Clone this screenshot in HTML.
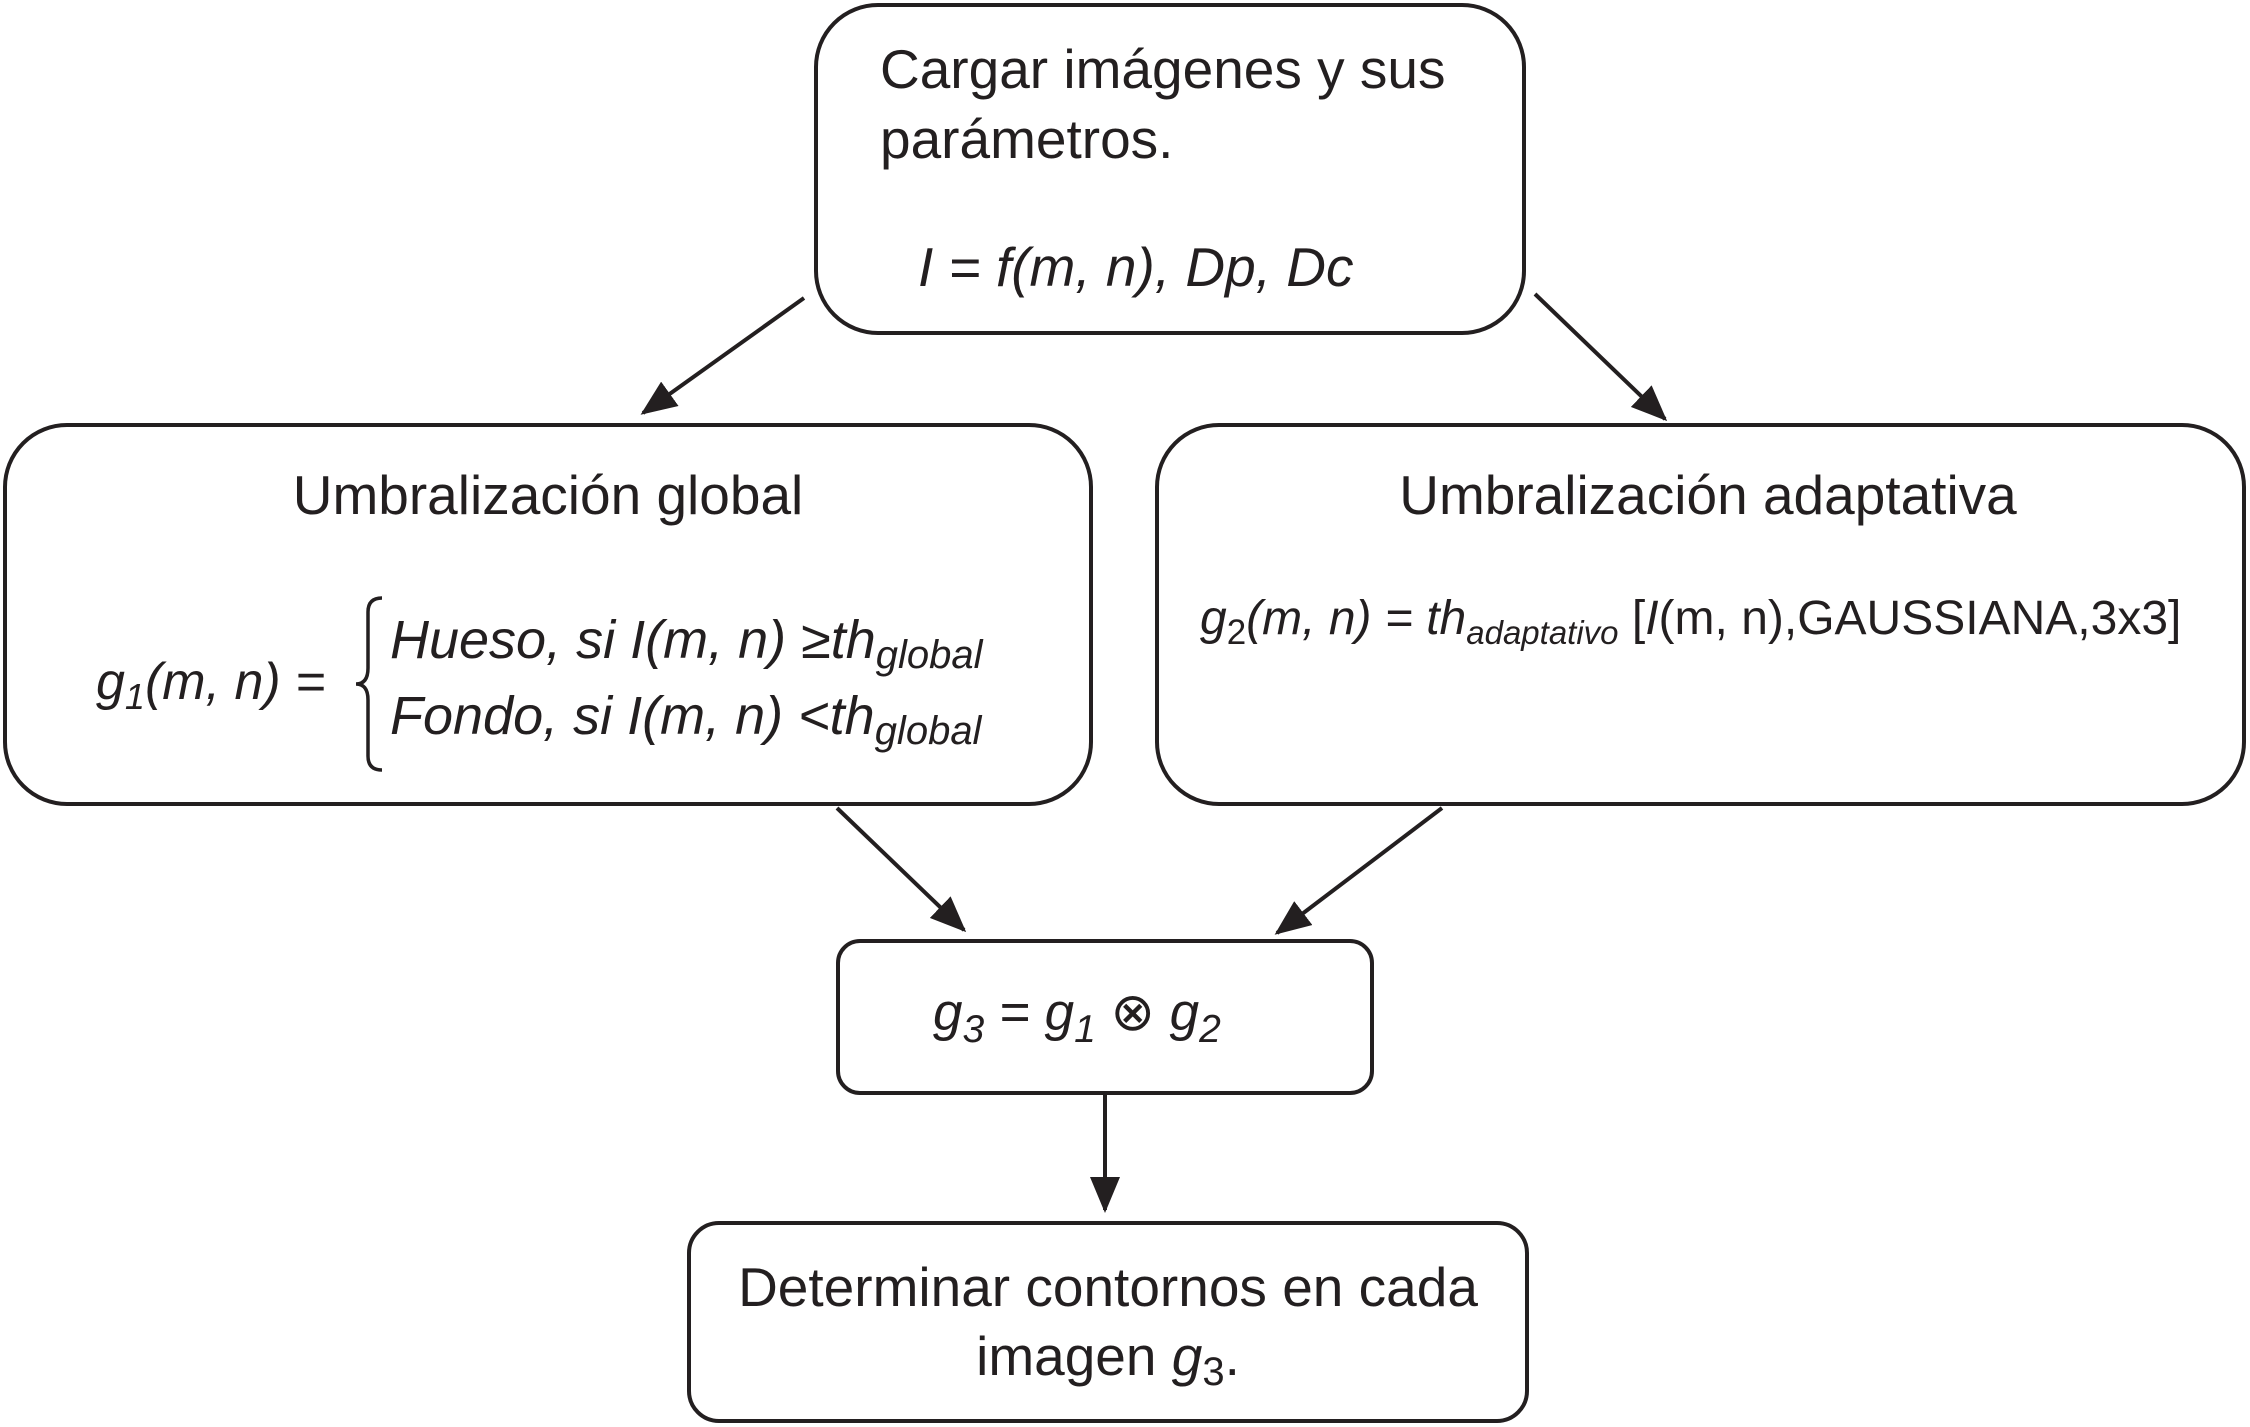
<!DOCTYPE html>
<html><head><meta charset="utf-8"><style>
html,body{margin:0;padding:0;background:#fff;}
svg{display:block;}
text{font-family:"Liberation Sans",Arial,sans-serif;fill:#231f20;}
.i{font-style:italic;}
</style></head><body>
<svg width="2250" height="1427" viewBox="0 0 2250 1427" xmlns="http://www.w3.org/2000/svg">
<defs>
<marker id="ah" viewBox="0 0 12 10" refX="11" refY="5" markerWidth="36" markerHeight="30" markerUnits="userSpaceOnUse" orient="auto"><path d="M0,0 L12,5 L0,10 z" fill="#231f20"/></marker>
</defs>
<g fill="none" stroke="#231f20" stroke-width="4">
<rect x="816" y="5" width="708" height="328" rx="62"/>
<rect x="5" y="425" width="1086" height="379" rx="62"/>
<rect x="1157" y="425" width="1087" height="379" rx="62"/>
<rect x="838" y="941" width="534" height="152" rx="22"/>
<rect x="689" y="1223" width="838" height="198" rx="30"/>
<g marker-end="url(#ah)">
<line x1="804" y1="298" x2="643" y2="413"/>
<line x1="1535" y1="294" x2="1665" y2="419"/>
<line x1="837" y1="808" x2="964" y2="930"/>
<line x1="1442" y1="808" x2="1277" y2="933"/>
<line x1="1105" y1="1093" x2="1105" y2="1210"/>
</g>
<path d="M382,598 Q368,598 368,612 L368,668 Q368,684 356,684 Q368,684 368,700 L368,756 Q368,770 382,770" stroke-width="3.5"/>
</g>
<text x="880" y="88" font-size="55">Cargar imágenes y sus</text>
<text x="880" y="158" font-size="55">parámetros.</text>
<text x="918" y="286" font-size="55" class="i">I = f(m, n), Dp, Dc</text>
<text x="548" y="514" font-size="55" text-anchor="middle">Umbralización global</text>
<text x="1708" y="514" font-size="55" text-anchor="middle">Umbralización adaptativa</text>
<text x="96" y="699" font-size="52" class="i">g<tspan font-size="36" dy="10">1</tspan><tspan dy="-10">(m, n) =</tspan></text>
<text x="390" y="658" font-size="54" class="i">Hueso, si I(m, n) ≥th<tspan font-size="40" dy="10">global</tspan></text>
<text x="390" y="734" font-size="54" class="i">Fondo, si I(m, n) &lt;th<tspan font-size="40" dy="10">global</tspan></text>
<text x="1200" y="634" font-size="48"><tspan class="i">g</tspan><tspan font-size="35" dy="10">2</tspan><tspan dy="-10" class="i">(m, n) = th</tspan><tspan class="i" font-size="33" dy="10">adaptativo</tspan><tspan dy="-10"> [</tspan><tspan class="i">I</tspan>(m, n),GAUSSIANA,3x3]</text>
<text x="933" y="1030" font-size="53" class="i">g<tspan font-size="39" dy="12">3</tspan><tspan dy="-12"> = g</tspan><tspan font-size="39" dy="12">1</tspan><tspan dy="-12" font-style="normal"> ⊗ </tspan><tspan>g</tspan><tspan font-size="39" dy="12">2</tspan></text>
<text x="1108" y="1306" font-size="55" text-anchor="middle">Determinar contornos en cada</text>
<text x="1108" y="1375" font-size="55" text-anchor="middle">imagen <tspan class="i">g</tspan><tspan font-size="40" dy="10">3</tspan><tspan dy="-10">.</tspan></text>
</svg>
</body></html>
